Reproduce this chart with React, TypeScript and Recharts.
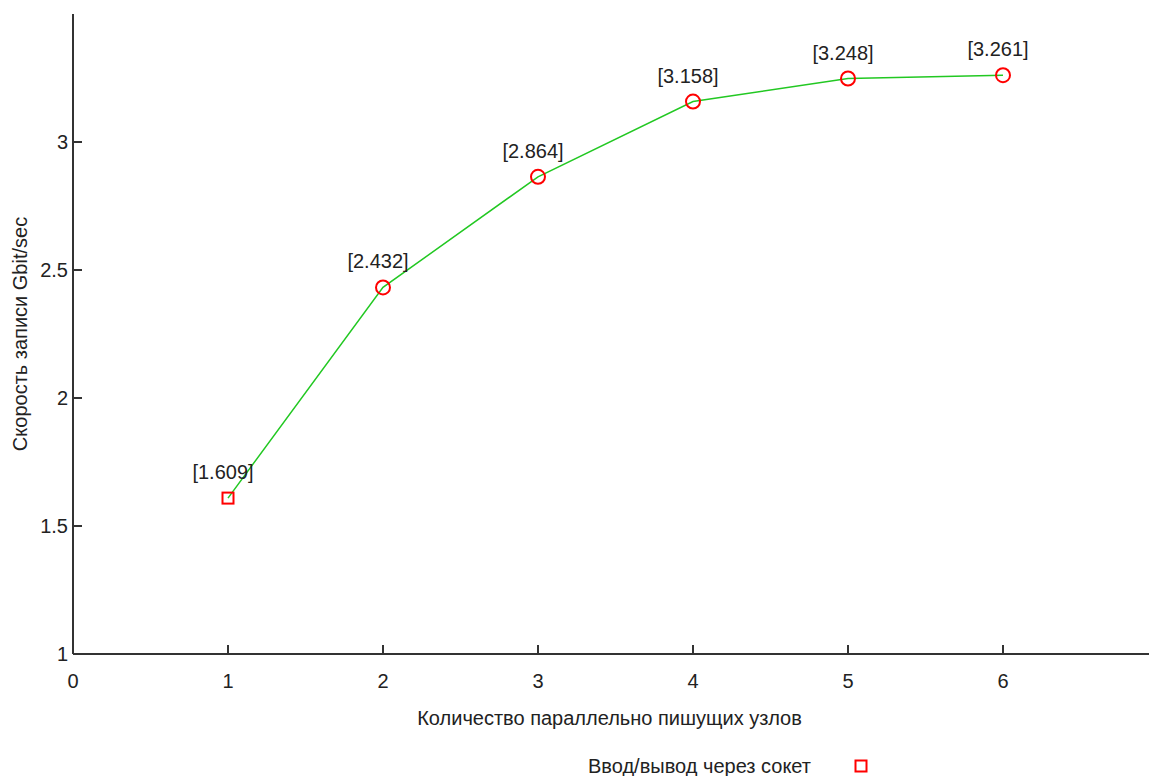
import React from "react";
import {
  LineChart,
  Line,
  XAxis,
  YAxis,
  Legend,
  LabelList,
} from "recharts";

const nodes = [1, 2, 3, 4, 5, 6];
const speeds = [1.609, 2.432, 2.864, 3.158, 3.248, 3.261];
const xTicks = [0, 1, 2, 3, 4, 5, 6];
const yTicks = [1, 1.5, 2, 2.5, 3];
const seriesName = "Ввод/вывод через сокет";
const xTitle = "Количество параллельно пишущих узлов";
const yTitle = "Скорость записи Gbit/sec";

const data = nodes.map((n, i) => ({ n, v: speeds[i] }));

const FONT = "'Liberation Sans', Arial, sans-serif";
const AXIS = "#333333";
const TEXT = "#222222";
const GREEN = "#22c822";
const RED = "#ff0000";

const BottomTick = (p: any) => (
  <g>
    <line x1={p.x} y1={p.y} x2={p.x} y2={p.y - 9} stroke={AXIS} strokeWidth={2} />
    <text x={p.x} y={p.y + 34} textAnchor="middle" fontSize={20} fontFamily={FONT} fill={TEXT}>
      {p.payload.value}
    </text>
  </g>
);
const TopTick = (p: any) => (
  <line x1={p.x} y1={p.y} x2={p.x} y2={p.y + 9} stroke={AXIS} strokeWidth={2} />
);
const LeftTick = (p: any) => (
  <g>
    <line x1={p.x} y1={p.y} x2={p.x + 9} y2={p.y} stroke={AXIS} strokeWidth={2} />
    <text x={p.x - 5} y={p.y + 7} textAnchor="end" fontSize={20} fontFamily={FONT} fill={TEXT}>
      {p.payload.value}
    </text>
  </g>
);
const RightTick = (p: any) => (
  <line x1={p.x} y1={p.y} x2={p.x - 9} y2={p.y} stroke={AXIS} strokeWidth={2} />
);

const Dot = (p: any) => {
  if (p.cx == null || p.cy == null) return <g key={p.index} />;
  if (p.index === 0) {
    return (
      <rect
        key={p.index}
        x={p.cx - 5.5}
        y={p.cy - 5.5}
        width={11}
        height={11}
        fill="none"
        stroke={RED}
        strokeWidth={2}
      />
    );
  }
  return <circle key={p.index} cx={p.cx} cy={p.cy} r={7} fill="none" stroke={RED} strokeWidth={2} />;
};

const ValueLabel = (p: any) => (
  <text
    x={p.x - 5}
    y={p.y - 19}
    textAnchor="middle"
    fontSize={20}
    fontFamily={FONT}
    fill={TEXT}
  >
    {"[" + Number(p.value).toFixed(3) + "]"}
  </text>
);

const LegendContent = () => (
  <div style={{ position: "relative", height: 20, width: 1149, fontFamily: FONT, fontSize: 20, color: TEXT }}>
    <span style={{ position: "absolute", left: 588, top: 0, lineHeight: "20px", whiteSpace: "nowrap" }}>
      {seriesName}
    </span>
    <svg style={{ position: "absolute", left: 853, top: 2 }} width={16} height={16}>
      <rect x={2.5} y={2.5} width={11} height={11} fill="none" stroke={RED} strokeWidth={2} />
    </svg>
  </div>
);

export default function App() {
  return (
    <div
      style={{
        position: "absolute",
        left: 0,
        top: 0,
        width: 1149,
        height: 776,
        overflow: "hidden",
        background: "#ffffff",
      }}
    >
      <LineChart
        width={1200}
        height={776}
        data={data}
        margin={{ top: 14, right: 42, bottom: 0, left: 0 }}
      >
        <XAxis
          xAxisId="bottom"
          dataKey="n"
          type="number"
          domain={[0, 7]}
          ticks={xTicks}
          orientation="bottom"
          height={102}
          tickSize={0}
          tickMargin={0}
          tickLine={false}
          axisLine={{ stroke: AXIS, strokeWidth: 2 }}
          tick={BottomTick}
          interval={0}
          label={{
            content: (lp: any) => {
              const vb = lp.viewBox;
              return (
                <text
                  x={vb.x + vb.width / 2 - 6}
                  y={vb.y + 71}
                  textAnchor="middle"
                  fontSize={20}
                  fontFamily={FONT}
                  fill={TEXT}
                >
                  {xTitle}
                </text>
              );
            },
          }}
        />
        <XAxis
          xAxisId="top"
          dataKey="n"
          type="number"
          domain={[0, 7]}
          ticks={xTicks}
          orientation="top"
          height={0}
          tickSize={0}
          tickMargin={0}
          tickLine={false}
          axisLine={{ stroke: AXIS, strokeWidth: 2 }}
          tick={TopTick}
          interval={0}
        />
        <YAxis
          yAxisId="left"
          type="number"
          domain={[1, 3.5]}
          ticks={yTicks}
          width={73}
          tickSize={0}
          tickMargin={0}
          tickLine={false}
          axisLine={{ stroke: AXIS, strokeWidth: 2 }}
          tick={LeftTick}
          interval={0}
          label={{
            content: (lp: any) => {
              const vb = lp.viewBox;
              const cx = 27;
              const cy = vb.y + vb.height / 2;
              return (
                <text
                  x={cx}
                  y={cy}
                  transform={`rotate(-90, ${cx}, ${cy})`}
                  textAnchor="middle"
                  fontSize={20}
                  fontFamily={FONT}
                  fill={TEXT}
                >
                  {yTitle}
                </text>
              );
            },
          }}
        />
        <YAxis
          yAxisId="right"
          orientation="right"
          type="number"
          domain={[1, 3.5]}
          ticks={yTicks}
          width={0}
          tickSize={0}
          tickMargin={0}
          tickLine={false}
          axisLine={{ stroke: AXIS, strokeWidth: 2 }}
          tick={RightTick}
          interval={0}
        />
        <Legend
          verticalAlign="bottom"
          align="left"
          wrapperStyle={{ left: 0, bottom: 0, width: 1149, height: 20 }}
          content={LegendContent}
        />
        <Line
          xAxisId="bottom"
          yAxisId="left"
          type="linear"
          dataKey="v"
          name={seriesName}
          stroke={GREEN}
          strokeWidth={1.5}
          dot={Dot}
          activeDot={false}
          isAnimationActive={false}
        >
          <LabelList dataKey="v" content={ValueLabel} />
        </Line>
      </LineChart>
    </div>
  );
}
